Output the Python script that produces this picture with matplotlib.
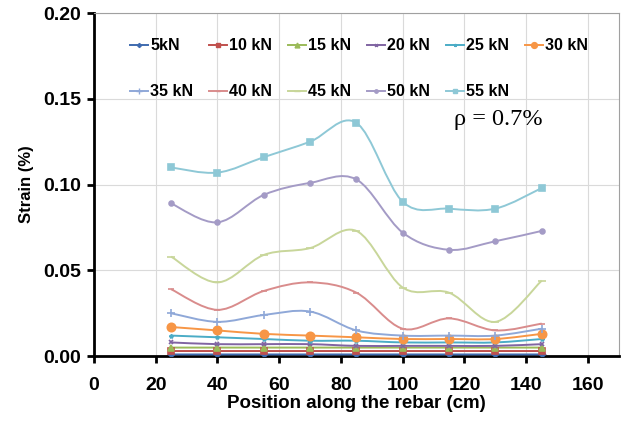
import matplotlib
matplotlib.use("Agg")
from matplotlib import pyplot as plt
from matplotlib.path import Path
from matplotlib.patches import PathPatch
from matplotlib.lines import Line2D
import numpy as np

plt.rcParams['font.family'] = ['Liberation Sans', 'DejaVu Sans']

positions = [25, 40, 55, 70, 85, 100, 115, 130, 145]

loads = ['5kN', '10 kN', '15 kN', '20 kN', '25 kN', '30 kN',
         '35 kN', '40 kN', '45 kN', '50 kN', '55 kN']

strain_5 = [0.001, 0.001, 0.001, 0.001, 0.001, 0.001, 0.001, 0.001, 0.001]
strain_10 = [0.003, 0.003, 0.003, 0.003, 0.003, 0.003, 0.003, 0.003, 0.003]
strain_15 = [0.005, 0.005, 0.005, 0.005, 0.005, 0.005, 0.005, 0.005, 0.005]
strain_20 = [0.008, 0.007, 0.007, 0.007, 0.006, 0.006, 0.006, 0.006, 0.007]
strain_25 = [0.012, 0.011, 0.010, 0.009, 0.009, 0.008, 0.008, 0.008, 0.010]
strain_30 = [0.017, 0.015, 0.013, 0.012, 0.011, 0.010, 0.010, 0.010, 0.013]
strain_35 = [0.025, 0.020, 0.024, 0.026, 0.015, 0.012, 0.012, 0.012, 0.016]
strain_40 = [0.039, 0.027, 0.038, 0.043, 0.037, 0.016, 0.022, 0.015, 0.019]
strain_45 = [0.058, 0.043, 0.059, 0.063, 0.073, 0.040, 0.037, 0.020, 0.044]
strain_50 = [0.089, 0.078, 0.094, 0.101, 0.103, 0.072, 0.062, 0.067, 0.073]
strain_55 = [0.110, 0.107, 0.116, 0.125, 0.136, 0.090, 0.086, 0.086, 0.098]

series = [strain_5, strain_10, strain_15, strain_20, strain_25, strain_30,
          strain_35, strain_40, strain_45, strain_50, strain_55]

colors = ['#3F6BAF', '#C0504D', '#9BBB59', '#8064A2', '#4BACC6', '#F79646',
          '#8FA8D8', '#D98C8C', '#C8D69A', '#A49BC6', '#8EC8D6']
markers = ['D', 's', '^', 'x', '*', 'o', '+', '_', '_', 'o', 's']
msizes = [3, 5, 5, 3, 3, 6, 6, 5, 6, 3.5, 5]


def smooth_path(xs, ys):
    # Excel-like smoothed line: cubic Bezier segments through the points
    pts = np.column_stack([xs, ys])
    ext = np.vstack([pts[0], pts, pts[-1]])
    verts = [pts[0]]
    codes = [Path.MOVETO]
    for i in range(len(pts) - 1):
        p0, p1, p2, p3 = ext[i], ext[i + 1], ext[i + 2], ext[i + 3]
        verts += [p1 + (p2 - p0) / 6, p2 - (p3 - p1) / 6, p2]
        codes += [Path.CURVE4] * 3
    return Path(verts, codes)


fig = plt.figure(figsize=(6.22, 4.21), dpi=100)
ax = fig.add_axes([0.151, 0.154, 0.844, 0.815])

handles = []
for vals, lab, c, m, ms in zip(series, loads, colors, markers, msizes):
    ax.add_patch(PathPatch(smooth_path(positions, vals), facecolor='none',
                           edgecolor=c, lw=1.4, zorder=3))
    ax.plot(positions, vals, ls='none', marker=m, color=c, markersize=ms,
            markeredgewidth=1.2, zorder=4)
    handles.append(Line2D([], [], color=c, lw=1.4, marker=m, markersize=ms * 0.7))

ax.set_xlim(0, 170)
ax.set_ylim(0, 0.20)
ax.set_xticks(np.arange(0, 161, 20))
ax.set_yticks([0.00, 0.05, 0.10, 0.15, 0.20])
ax.set_yticklabels(['0.00', '0.05', '0.10', '0.15', '0.20'])
ax.grid(True, color='#DADADA', lw=0.8)
ax.set_axisbelow(True)

for s in ['left', 'bottom']:
    ax.spines[s].set_linewidth(2)
    ax.spines[s].set_color('black')
for s in ['top', 'right']:
    ax.spines[s].set_linewidth(0.8)
    ax.spines[s].set_color('#A0A0A0')
ax.tick_params(direction='out', length=5, width=2, labelsize=14)
ax.tick_params(axis='x', pad=10)
ax.tick_params(axis='y', pad=4)
for t in ax.get_xticklabels() + ax.get_yticklabels():
    t.set_fontweight('bold')

ax.set_xlabel('Position along the rebar (cm)', fontsize=13.5, fontweight='bold', labelpad=1)
ax.set_ylabel('Strain (%)', fontsize=12, fontweight='bold', labelpad=7)

order = [0, 6, 1, 7, 2, 8, 3, 9, 4, 10, 5]
ax.legend([handles[i] for i in order], [loads[i] for i in order], ncol=6,
          loc='upper left', bbox_to_anchor=(0.057, 0.945), frameon=False,
          prop={'weight': 'bold', 'size': 11.5}, handlelength=1.1,
          handletextpad=0.15, columnspacing=1.0, labelspacing=1.95,
          borderaxespad=0)

ax.text(0.685, 0.69, r'ρ = 0.7%', transform=ax.transAxes, fontsize=17.5,
        family='Liberation Serif', va='center')

fig.savefig('out.png', dpi=100)
